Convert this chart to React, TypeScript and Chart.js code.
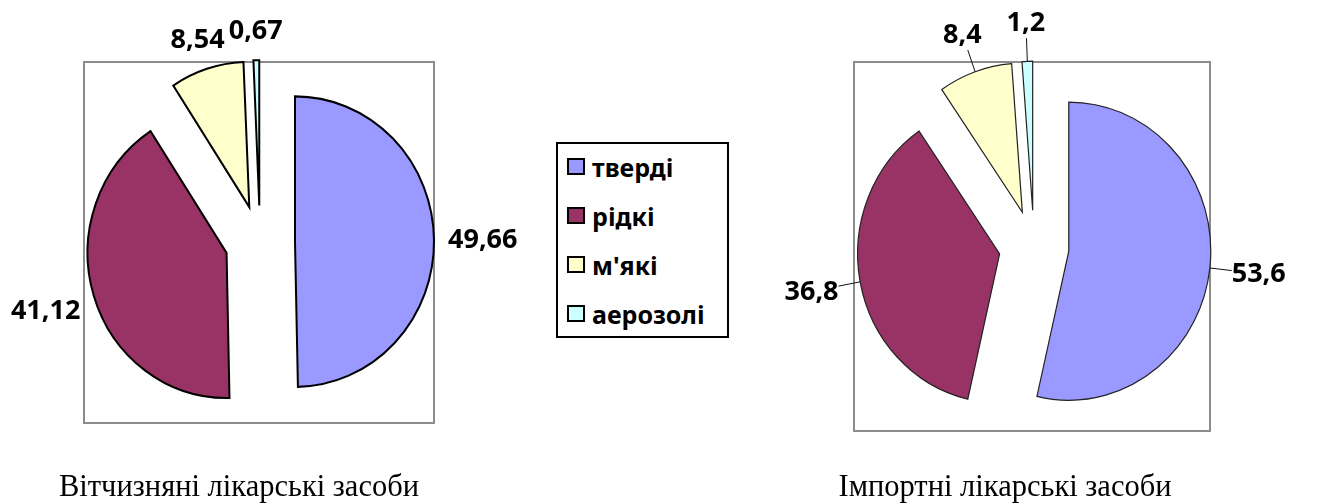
import React, { useEffect, useRef } from 'react';
import { Chart, registerables } from 'chart.js';

Chart.register(...registerables);

const categories = ['тверді', 'рідкі', "м'які", 'аерозолі'];
const domesticValues = [49.66, 41.12, 8.54, 0.67];
const importValues = [53.6, 36.8, 8.4, 1.2];
const sliceColors = ['#9999FF', '#993366', '#FFFFCC', '#CCFFFF'];
const captions = ['Вітчизняні лікарські засоби', 'Імпортні лікарські засоби'];

const fmt = (v: number) => String(v).replace('.', ',');

const explodePlugin = {
  id: 'explodeLabels',
  beforeDatasetDraw(chart: any, args: any, opts: any) {
    const ctx = chart.ctx;
    const d = opts.distance || 0;
    const sy = opts.stretchY || 1;
    args.meta.data.forEach((arc: any) => {
      const mid = (arc.startAngle + arc.endAngle) / 2;
      ctx.save();
      ctx.translate(arc.x, arc.y);
      ctx.scale(1, sy);
      ctx.translate(-arc.x, -arc.y);
      ctx.translate(Math.cos(mid) * d, Math.sin(mid) * d);
      arc.draw(ctx);
      ctx.restore();
    });
    return false;
  },
  afterDatasetsDraw(chart: any, _args: any, opts: any) {
    const ctx = chart.ctx;
    const d = opts.distance || 0;
    const gap = opts.gap || 0;
    const sy = opts.stretchY || 1;
    const fontSize = opts.fontSize || 26;
    chart.data.datasets.forEach((ds: any, di: number) => {
      const meta = chart.getDatasetMeta(di);
      const values = ds.data;
      ctx.save();
      ctx.font = `bold ${fontSize}px 'Noto Sans', sans-serif`;
      ctx.fillStyle = '#000';
      ctx.textAlign = 'center';
      ctx.textBaseline = 'middle';
      meta.data.forEach((arc: any, i: number) => {
        const mid = (arc.startAngle + arc.endAngle) / 2;
        const dx = Math.cos(mid);
        const dy = Math.sin(mid);
        const px = (t: number) => arc.x + dx * t;
        const py = (t: number) => arc.y + dy * t * sy;
        const r = arc.outerRadius;
        const text = fmt(values[i]);
        const w = ctx.measureText(text).width;
        const h = fontSize * 1.15;
        const anchorX = px(d + r + gap);
        const anchorY = py(d + r + gap);
        const kx = Math.abs(dx) > 1e-6 ? w / 2 / Math.abs(dx) : Infinity;
        const ky = Math.abs(dy) > 1e-6 ? h / 2 / Math.abs(dy) : Infinity;
        const k = Math.min(kx, ky);
        const cx = anchorX + dx * k;
        const cy = anchorY + dy * k;
        if (opts.leader) {
          ctx.beginPath();
          ctx.strokeStyle = '#111';
          ctx.lineWidth = 1;
          ctx.moveTo(px(d + r), py(d + r));
          ctx.lineTo(anchorX, anchorY);
          ctx.stroke();
        }
        ctx.fillText(text, cx, cy + 1);
      });
      ctx.restore();
    });
  },
};

type PieProps = {
  values: number[];
  left: number;
  top: number;
  width: number;
  height: number;
  radius: number;
  stretchY: number;
  distance: number;
  gap: number;
  leader: boolean;
  borderColor: string;
  borderWidth: number;
};

function ExplodedPie(p: PieProps) {
  const ref = useRef<HTMLCanvasElement | null>(null);
  useEffect(() => {
    if (!ref.current) return;
    const chart = new Chart(ref.current, {
      type: 'pie',
      data: {
        labels: categories,
        datasets: [
          {
            data: p.values,
            backgroundColor: sliceColors,
            borderColor: p.borderColor,
            borderWidth: p.borderWidth,
            borderJoinStyle: 'miter',
            radius: p.radius,
          } as any,
        ],
      },
      options: {
        animation: false,
        responsive: false,
        maintainAspectRatio: false,
        devicePixelRatio: 1,
        events: [],
        layout: { padding: 0 },
        plugins: {
          legend: { display: false },
          tooltip: { enabled: false },
          explodeLabels: {
            distance: p.distance,
            gap: p.gap,
            leader: p.leader,
            stretchY: p.stretchY,
            fontSize: 27,
          },
        } as any,
      },
      plugins: [explodePlugin as any],
    });
    return () => chart.destroy();
  }, []);
  return (
    <canvas
      ref={ref}
      width={p.width}
      height={p.height}
      style={{ position: 'absolute', left: p.left, top: p.top, width: p.width, height: p.height }}
    />
  );
}

export default function App() {
  const boxStyle = (left: number, top: number, width: number, height: number): React.CSSProperties => ({
    position: 'absolute',
    left,
    top,
    width,
    height,
    border: '2px solid #8c8c8c',
    boxSizing: 'border-box',
    background: '#fff',
  });
  const captionStyle = (left: number, width: number): React.CSSProperties => ({
    position: 'absolute',
    left,
    top: 469,
    width,
    textAlign: 'center',
    fontFamily: "'Liberation Serif', 'Times New Roman', serif",
    fontSize: 30.5,
    lineHeight: '34px',
    color: '#000',
    whiteSpace: 'nowrap',
  });
  return (
    <div style={{ position: 'absolute', left: 0, top: 0, width: 1323, height: 504, background: '#fff' }}>
      <div style={boxStyle(83, 61, 352, 363)} />
      <div style={boxStyle(853, 61, 358, 371)} />
      <ExplodedPie
        values={domesticValues}
        left={0}
        top={0}
        width={520}
        height={484}
        radius={139}
        stretchY={1.045}
        distance={35}
        gap={14}
        leader={false}
        borderColor="#000"
        borderWidth={2}
      />
      <ExplodedPie
        values={importValues}
        left={745}
        top={0}
        width={578}
        height={494}
        radius={142}
        stretchY={1.05}
        distance={35}
        gap={22}
        leader={true}
        borderColor="#222"
        borderWidth={1.2}
      />
      <div
        style={{
          position: 'absolute',
          left: 556,
          top: 142,
          width: 173,
          height: 196,
          border: '2px solid #000',
          boxSizing: 'border-box',
          background: '#fff',
        }}
      >
        {categories.map((c, i) => (
          <div
            key={c}
            style={{
              position: 'absolute',
              left: 9,
              top: 7.5 + i * 49,
              height: 30,
              display: 'flex',
              alignItems: 'center',
              whiteSpace: 'nowrap',
            }}
          >
            <div
              style={{
                width: 18,
                height: 17,
                border: '2px solid #000',
                boxSizing: 'border-box',
                background: sliceColors[i],
                marginRight: 7,
              }}
            />
            <span
              style={{
                fontFamily: "'Noto Sans', sans-serif",
                fontWeight: 700,
                fontSize: 25,
                lineHeight: '30px',
                color: '#000',
              }}
            >
              {c}
            </span>
          </div>
        ))}
      </div>
      <div style={captionStyle(0, 478)}>{captions[0]}</div>
      <div style={captionStyle(805, 400)}>{captions[1]}</div>
    </div>
  );
}
